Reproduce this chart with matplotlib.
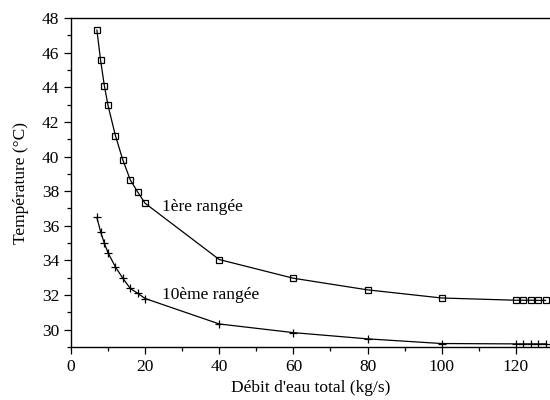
import numpy as np
import matplotlib.pyplot as plt

plt.rcParams['font.family'] = ['Liberation Serif', 'DejaVu Serif']

# Débit d'eau total (kg/s)
debit = [7, 8, 9, 10, 12, 14, 16, 18, 20, 40, 60, 80, 100, 120, 122, 124, 126, 128]

# Température de sortie (°C) pour chaque rangée
temp_1ere = [47.3, 45.55, 44.1, 42.95, 41.2, 39.8, 38.65, 37.95, 37.3,
             34.05, 32.97, 32.3, 31.83, 31.7, 31.7, 31.7, 31.69, 31.69]
temp_10eme = [36.48, 35.65, 35.0, 34.44, 33.62, 32.97, 32.38, 32.1, 31.8,
              30.33, 29.83, 29.47, 29.2, 29.18, 29.18, 29.18, 29.18, 29.18]

fig = plt.figure(figsize=(5.5, 4), dpi=100)
ax = fig.add_axes([0.129, 0.1325, 0.871, 0.8225])

ax.plot(debit, temp_1ere, color='black', lw=0.9, marker='s', ms=4.6,
        mfc='none', mec='black', mew=0.9)
ax.plot(debit, temp_10eme, color='black', lw=0.9, marker='+', ms=6,
        mew=0.9)

ax.text(24.6, 37.1, '1ère rangée', fontsize=12.5, va='center', ha='left')
ax.text(24.6, 32.0, '10ème rangée', fontsize=12.5, va='center', ha='left')

ax.set_xlim(0, 129.2)
ax.set_ylim(29, 48)
ax.set_xticks(np.arange(0, 121, 20))
ax.set_xticks(np.arange(0, 129, 10), minor=True)
ax.set_yticks(np.arange(30, 49, 2))
ax.set_yticks(np.arange(29, 48.5, 1), minor=True)

ax.spines['right'].set_visible(False)
for s in ax.spines.values():
    s.set_linewidth(1.0)

ax.tick_params(which='major', direction='out', length=5, width=0.9, labelsize=12.5)
ax.tick_params(which='minor', direction='out', length=3, width=0.9)

ax.set_xlabel("Débit d'eau total (kg/s)", fontsize=12.5, labelpad=4)
ax.set_ylabel('Température (°C)', fontsize=12.5, labelpad=9)

fig.savefig('out.png', dpi=100)
